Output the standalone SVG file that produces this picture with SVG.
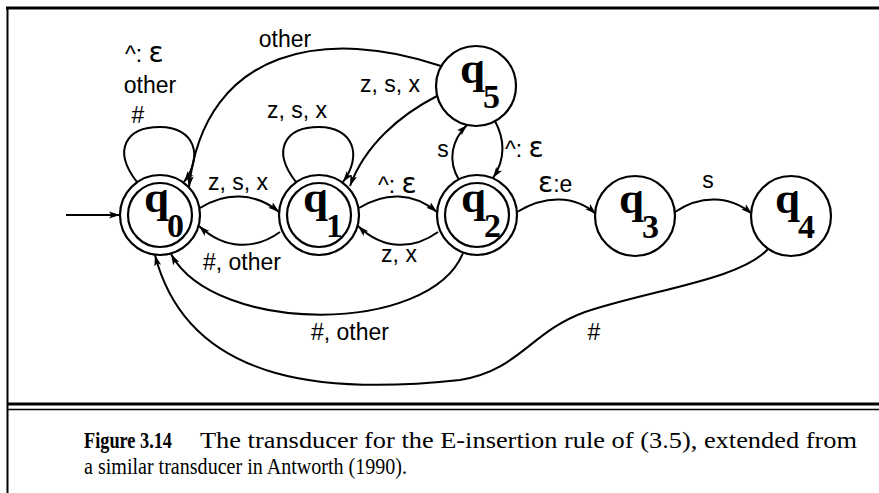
<svg xmlns="http://www.w3.org/2000/svg" width="879" height="493" viewBox="0 0 879 493">
<style>
.edge{fill:none;stroke:#000;stroke-width:2;marker-end:url(#ah)}
.ring{fill:#fff;stroke:#000;stroke-width:2.2}
.lbl{font-family:"Liberation Sans",Arial,sans-serif;font-size:23px;fill:#000}
.eps{font-family:"DejaVu Sans",sans-serif;font-size:28px}
.q{font-family:"Liberation Serif","Times New Roman",serif;font-weight:bold;font-size:45px;fill:#000}
.sub{font-size:34px}
.cap{font-family:"Liberation Serif","Times New Roman",serif;font-size:24px;fill:#000}
.frame{stroke:#000;fill:none}
</style>
<defs>
<marker id="ah" markerWidth="12" markerHeight="8" refX="11" refY="4" orient="auto" markerUnits="userSpaceOnUse">
<path d="M0,0.5 L11,4 L0,7.5 L2.5,4 z" fill="#000"/>
</marker>
</defs>
<rect width="879" height="493" fill="#fff"/>
<g id="frame">
<line class="frame" x1="6" y1="8" x2="879" y2="8" stroke-width="3"/>
<line class="frame" x1="7.5" y1="7" x2="7.5" y2="493" stroke-width="2"/>
<line class="frame" x1="7" y1="404" x2="879" y2="404" stroke-width="3"/>
<line class="frame" x1="7" y1="409.5" x2="879" y2="409.5" stroke-width="1.5"/>
</g>
<g id="connectors">
<path class="edge" d="M66,215 L120,215"/>
<path class="edge" d="M137,182 C112,150 126,127 160,127 C194,127 204,155 184,182"/>
<path class="edge" d="M296,182 C271,150 285,127 319,127 C353,127 363,155 343,182"/>
<path class="edge" d="M441,66 C330,28 205,45 189,187"/>
<path class="edge" d="M437,96 C400,115 365,145 350,186"/>
<path class="edge" d="M200,208 C225,192 255,192 279,212"/>
<path class="edge" d="M280,232 C255,250 225,250 199,226"/>
<path class="edge" d="M359,208 C385,192 413,192 437,212"/>
<path class="edge" d="M438,232 C413,250 383,250 358,226"/>
<path class="edge" d="M459,180 C447,160 452,140 467,125"/>
<path class="edge" d="M495,121 C505,140 505,160 493,178"/>
<path class="edge" d="M517,212 C545,195 575,195 596,214"/>
<path class="edge" d="M675,212 C700,195 730,195 752,214"/>
<path class="edge" d="M463,253 C430,335 215,335 171,254"/>
<path class="edge" d="M768,249 C740,280 650,290 585,312 C530,332 520,370 460,380 C340,393 190,390 155,255"/>
</g>
<g id="labels">
<text class="lbl" x="125" y="62">^: <tspan class="eps">ε</tspan></text>
<text class="lbl" x="150" y="93" text-anchor="middle">other</text>
<text class="lbl" x="138" y="123" text-anchor="middle">#</text>
<text class="lbl" x="285" y="47" text-anchor="middle">other</text>
<text class="lbl" x="390" y="92" text-anchor="middle">z, s, x</text>
<text class="lbl" x="297" y="118" text-anchor="middle">z, s, x</text>
<text class="lbl" x="238" y="190" text-anchor="middle">z, s, x</text>
<text class="lbl" x="378" y="193">^: <tspan class="eps">ε</tspan></text>
<text class="lbl" x="242" y="270" text-anchor="middle">#, other</text>
<text class="lbl" x="399" y="262" text-anchor="middle">z, x</text>
<text class="lbl" x="443" y="157" text-anchor="middle">s</text>
<text class="lbl" x="505" y="157">^: <tspan class="eps">ε</tspan></text>
<text class="lbl" x="538" y="192"><tspan class="eps">ε</tspan>:e</text>
<text class="lbl" x="708" y="188" text-anchor="middle">s</text>
<text class="lbl" x="350" y="340" text-anchor="middle">#, other</text>
<text class="lbl" x="594" y="340" text-anchor="middle">#</text>
</g>
<g id="q0"><circle class="ring" cx="160" cy="215" r="40"/><circle class="ring" cx="160" cy="215" r="32"/><text class="q" x="144" y="212">q<tspan class="sub" x="167" y="237">0</tspan></text></g>
<g id="q1"><circle class="ring" cx="319" cy="215" r="40"/><circle class="ring" cx="319" cy="215" r="32"/><text class="q" x="303" y="212">q<tspan class="sub" x="326" y="237">1</tspan></text></g>
<g id="q2"><circle class="ring" cx="477" cy="215" r="40"/><circle class="ring" cx="477" cy="215" r="32"/><text class="q" x="461" y="212">q<tspan class="sub" x="484" y="237">2</tspan></text></g>
<g id="q3"><circle class="ring" cx="635" cy="216" r="40"/><text class="q" x="619" y="213">q<tspan class="sub" x="642" y="238">3</tspan></text></g>
<g id="q4"><circle class="ring" cx="791" cy="216" r="40"/><text class="q" x="775" y="213">q<tspan class="sub" x="798" y="238">4</tspan></text></g>
<g id="q5"><circle class="ring" cx="476" cy="86" r="40"/><text class="q" x="460" y="83">q<tspan class="sub" x="483" y="108">5</tspan></text></g>
<g id="caption">
<text class="cap" x="84" y="448" font-weight="bold" textLength="88" lengthAdjust="spacingAndGlyphs">Figure 3.14</text>
<text class="cap" x="200" y="448" textLength="657" lengthAdjust="spacingAndGlyphs">The transducer for the E-insertion rule of (3.5), extended from</text>
<text class="cap" x="84" y="474" textLength="323" lengthAdjust="spacingAndGlyphs">a similar transducer in Antworth (1990).</text>
</g>
</svg>
